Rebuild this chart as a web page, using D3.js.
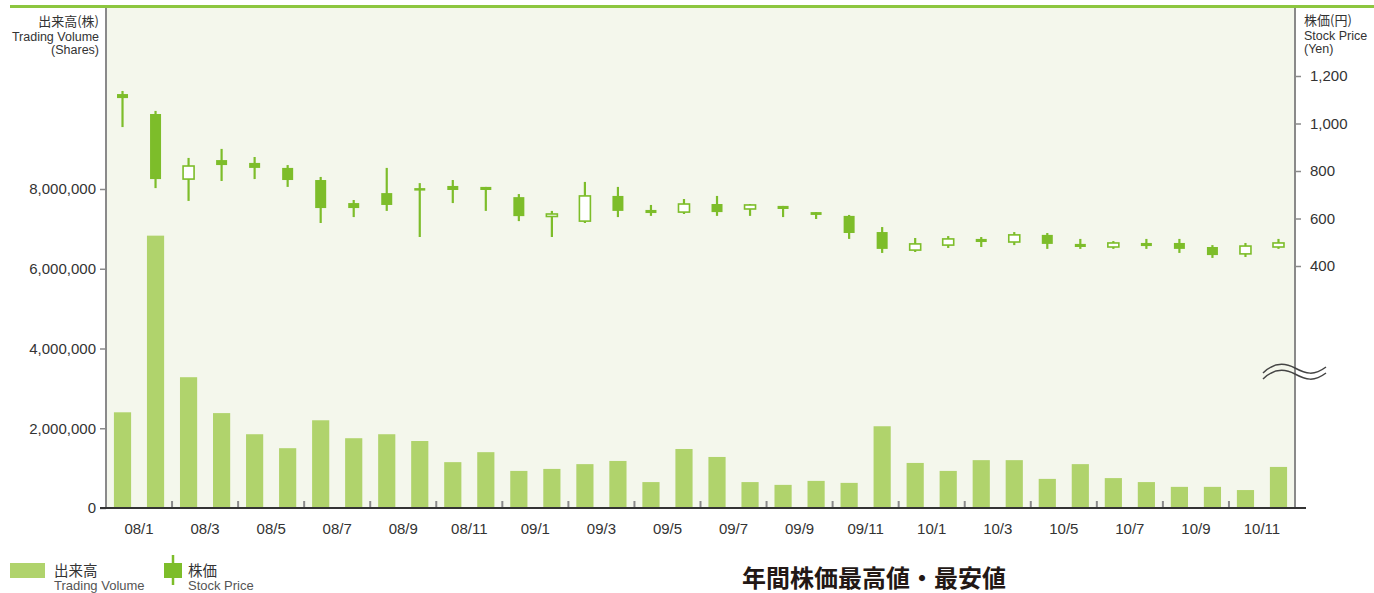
<!DOCTYPE html>
<html>
<head>
<meta charset="utf-8">
<script src="https://cdn.jsdelivr.net/npm/d3@7"></script>
<style>
  body { margin: 0; background: #fff; }
  text { font-family: "Liberation Sans", Arial, "Noto Sans CJK JP", sans-serif; }
  .jp { font-family: "Noto Sans CJK JP", sans-serif; }
</style>
</head>
<body>
<div id="vis"></div>
<script>
const w = 1374;
const h = 593;

const months = ["08/1","08/2","08/3","08/4","08/5","08/6","08/7","08/8","08/9","08/10","08/11","08/12",
    "09/1","09/2","09/3","09/4","09/5","09/6","09/7","09/8","09/9","09/10","09/11","09/12",
    "10/1","10/2","10/3","10/4","10/5","10/6","10/7","10/8","10/9","10/10","10/11","10/12"];
const tickLabels = ["08/1","08/3","08/5","08/7","08/9","08/11","09/1","09/3","09/5","09/7","09/9","09/11",
    "10/1","10/3","10/5","10/7","10/9","10/11"];
const volumeTicks = [0, 2000000, 4000000, 6000000, 8000000];
const priceTicks = [400, 600, 800, 1000, 1200];

const volume = [2400000, 6830000, 3280000, 2380000, 1850000, 1500000, 2200000, 1750000, 1850000, 1680000, 1150000, 1400000,
    930000, 980000, 1100000, 1180000, 650000, 1480000, 1280000, 650000, 580000, 680000, 630000, 2050000,
    1130000, 930000, 1200000, 1200000, 730000, 1100000, 750000, 650000, 530000, 530000, 450000, 1030000];
const open  = [1124, 1040, 766, 846, 834, 813, 762, 665, 707, 728, 737, 733,
    690, 610, 589, 695, 636, 627, 661, 640, 653, 627, 611, 543,
    467, 488, 514, 501, 531, 493, 480, 497, 497, 480, 451, 480];
const close = [1107, 766, 821, 825, 813, 762, 644, 644, 657, 720, 720, 720,
    610, 619, 695, 632, 623, 661, 627, 657, 640, 615, 539, 472,
    493, 514, 501, 531, 493, 480, 497, 484, 472, 446, 484, 497];
const high  = [1137, 1053, 855, 893, 859, 825, 775, 678, 813, 749, 762, 733,
    703, 632, 754, 733, 657, 682, 695, 661, 653, 627, 615, 564,
    518, 526, 522, 543, 539, 514, 505, 514, 514, 488, 497, 514];
const low   = [985, 728, 674, 758, 766, 733, 581, 606, 632, 522, 665, 632,
    589, 522, 581, 606, 611, 619, 611, 611, 606, 598, 514, 455,
    459, 476, 480, 488, 472, 472, 472, 472, 455, 434, 438, 472];

const plot = ({ left: 106, right: 1295, top: 8, bottom: 508 });
const barColor = '#b0d36c';
const candleColor = '#7dbd2a';
const axisGrey = '#8a8a8a';

const svg = d3.select('#vis')
    .append('svg')
    .attr('width', w)
    .attr('height', h);

const data = months.map((m, i) => ({
    month: m, volume: volume[i], open: open[i], close: close[i], high: high[i], low: low[i]
}));

let xScale = d3.scaleBand()
    .domain(months)
    .range([plot.left, plot.right])
    .paddingInner(0.48)
    .paddingOuter(0.24);

let pairScale = d3.scaleBand()
    .domain(tickLabels)
    .range([plot.left, plot.right]);

let vScale = d3.scaleLinear()
    .domain([0, 8000000])
    .range([plot.bottom, 189]);

let pScale = d3.scaleLinear()
    .domain([400, 1200])
    .range([266, 76]);

// panel + top rule
svg.append('rect')
    .attr('x', plot.left)
    .attr('y', plot.top)
    .attr('width', plot.right - plot.left)
    .attr('height', plot.bottom - plot.top)
    .attr('fill', '#f4f7ec');

svg.append('line')
    .attr('x1', 10).attr('x2', w)
    .attr('y1', 6.5).attr('y2', 6.5)
    .attr('stroke', '#8cc63f')
    .attr('stroke-width', 3);

// volume bars
svg.selectAll('rect.vol')
    .data(data)
    .join('rect')
    .attr('class', 'vol')
    .attr('x', d => xScale(d.month))
    .attr('y', d => vScale(d.volume))
    .attr('width', xScale.bandwidth())
    .attr('height', d => plot.bottom - vScale(d.volume))
    .attr('fill', barColor);

// candlesticks
const bodyW = 11;
const candles = svg.selectAll('g.candle')
    .data(data)
    .join('g')
    .attr('class', 'candle')
    .attr('transform', d => 'translate(' + (xScale(d.month) + xScale.bandwidth() / 2) + ',0)');

candles.append('line')
    .attr('x1', 0).attr('x2', 0)
    .attr('y1', d => pScale(d.high))
    .attr('y2', d => pScale(d.low))
    .attr('stroke', candleColor)
    .attr('stroke-width', 2.2);

candles.append('rect')
    .attr('x', -bodyW / 2)
    .attr('y', d => pScale(Math.max(d.open, d.close)))
    .attr('width', bodyW)
    .attr('height', d => Math.max(2.5, Math.abs(pScale(d.open) - pScale(d.close))))
    .attr('fill', d => d.close > d.open ? '#fff' : candleColor)
    .attr('stroke', candleColor)
    .attr('stroke-width', d => d.close > d.open ? 1.6 : 0);

// axes
let yLeft = d3.axisLeft(vScale)
    .tickValues(volumeTicks)
    .tickFormat(d3.format(','))
    .tickSize(6)
    .tickPadding(4);

let yRight = d3.axisRight(pScale)
    .tickValues(priceTicks)
    .tickFormat(d3.format(','))
    .tickSize(6)
    .tickPadding(9);

let gl = svg.append('g')
    .attr('class', 'y axis')
    .attr('transform', 'translate(' + plot.left + ', 0)')
    .call(yLeft);

let gr = svg.append('g')
    .attr('class', 'y axis')
    .attr('transform', 'translate(' + plot.right + ', 0)')
    .call(yRight);

[gl, gr].forEach(g => {
    g.select('.domain').remove();
    g.selectAll('.tick line').attr('stroke', axisGrey).attr('stroke-width', 1.5);
    g.selectAll('.tick text').attr('fill', '#333').attr('font-size', '15px')
        .attr('font-family', '"Liberation Sans", Arial, sans-serif');
});

[plot.left, plot.right].forEach(x => {
    svg.append('line')
        .attr('x1', x).attr('x2', x)
        .attr('y1', plot.top).attr('y2', plot.bottom)
        .attr('stroke', axisGrey)
        .attr('stroke-width', 2);
});

let xAxis = d3.axisBottom(pairScale)
    .tickSize(0)
    .tickPadding(15);

let gx = svg.append('g')
    .attr('class', 'x axis')
    .attr('transform', 'translate(0, ' + plot.bottom + ')')
    .call(xAxis);

gx.select('.domain').remove();
gx.selectAll('.tick text').attr('fill', '#333').attr('font-size', '15px')
    .attr('font-family', '"Liberation Sans", Arial, sans-serif');

svg.selectAll('line.xtick')
    .data(tickLabels.slice(1))
    .join('line')
    .attr('class', 'xtick')
    .attr('x1', d => pairScale(d)).attr('x2', d => pairScale(d))
    .attr('y1', plot.bottom - 7).attr('y2', plot.bottom)
    .attr('stroke', axisGrey)
    .attr('stroke-width', 2);

svg.append('line')
    .attr('x1', 100).attr('x2', 1306)
    .attr('y1', plot.bottom).attr('y2', plot.bottom)
    .attr('stroke', '#333')
    .attr('stroke-width', 2);

// axis break
[0, 6].forEach(dy => {
    svg.append('path')
        .attr('d', `M1263,${373 + dy} C1270,${366 + dy} 1280,${360 + dy} 1295,${368 + dy} C1306,${374 + dy} 1314,${376 + dy} 1326,${367 + dy}`)
        .attr('fill', 'none')
        .attr('stroke', '#444')
        .attr('stroke-width', 1.5);
});

// axis titles
const leftTitle = [['出来高(株)', 26, 13, true], ['Trading Volume', 41, 12.5, false], ['(Shares)', 54, 12.5, false]];
leftTitle.forEach(t => {
    svg.append('text')
        .attr('x', 99)
        .attr('y', t[1])
        .attr('text-anchor', 'end')
        .attr('class', t[3] ? 'jp' : null)
        .attr('font-size', t[2] + 'px')
        .attr('fill', '#333')
        .text(t[0]);
});

const rightTitle = [['株価(円)', 25, 13, true], ['Stock Price', 40, 12.5, false], ['(Yen)', 53, 12.5, false]];
rightTitle.forEach(t => {
    svg.append('text')
        .attr('x', 1304)
        .attr('y', t[1])
        .attr('class', t[3] ? 'jp' : null)
        .attr('font-size', t[2] + 'px')
        .attr('fill', '#333')
        .text(t[0]);
});

// legend
svg.append('rect')
    .attr('x', 10).attr('y', 563)
    .attr('width', 35).attr('height', 15)
    .attr('fill', barColor);

svg.append('text')
    .attr('x', 54).attr('y', 576)
    .attr('class', 'jp')
    .attr('font-size', '14.5px')
    .attr('fill', '#333')
    .text('出来高');

svg.append('text')
    .attr('x', 54).attr('y', 590)
    .attr('font-size', '13px')
    .attr('fill', '#555')
    .text('Trading Volume');

svg.append('line')
    .attr('x1', 173).attr('x2', 173)
    .attr('y1', 555).attr('y2', 585)
    .attr('stroke', candleColor)
    .attr('stroke-width', 2.5);

svg.append('rect')
    .attr('x', 164).attr('y', 563)
    .attr('width', 18).attr('height', 15)
    .attr('fill', candleColor);

svg.append('text')
    .attr('x', 188).attr('y', 576)
    .attr('class', 'jp')
    .attr('font-size', '14.5px')
    .attr('fill', '#333')
    .text('株価');

svg.append('text')
    .attr('x', 188).attr('y', 590)
    .attr('font-size', '13px')
    .attr('fill', '#555')
    .text('Stock Price');

svg.append('text')
    .attr('x', 742).attr('y', 587)
    .attr('class', 'jp')
    .attr('font-size', '24px')
    .attr('font-weight', 'bold')
    .attr('fill', '#231815')
    .text('年間株価最高値・最安値');
</script>
</body>
</html>
